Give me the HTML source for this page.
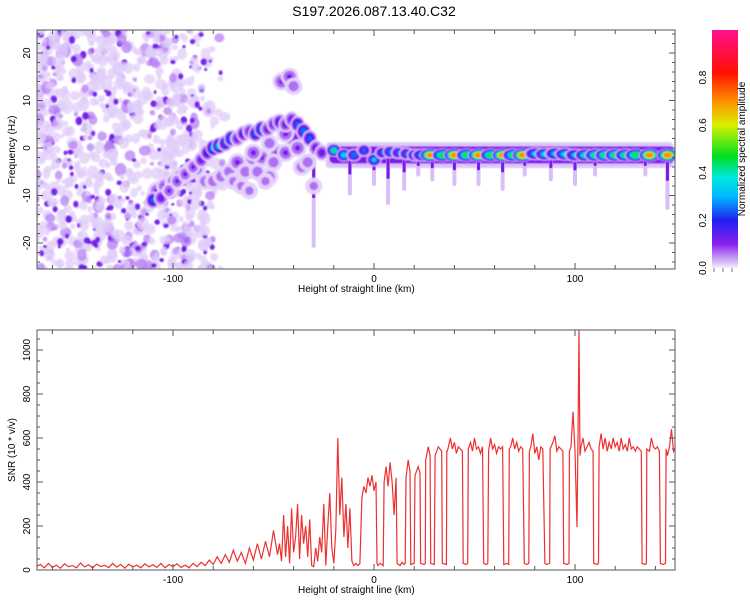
<!DOCTYPE html>
<html><head><meta charset="utf-8"><style>
html,body{margin:0;padding:0;background:#fff;}
svg{display:block;font-family:"Liberation Sans",sans-serif;}
</style></head><body>
<svg id="fig" width="750" height="600" viewBox="0 0 750 600">
<defs>
<clipPath id="clipTop"><rect x="37" y="30" width="638" height="239"/></clipPath>
<clipPath id="clipBot"><rect x="37" y="330" width="638" height="240"/></clipPath>
<linearGradient id="cbar" x1="0" y1="1" x2="0" y2="0">
<stop offset="0" stop-color="#f4ecfc"/><stop offset="0.04" stop-color="#c9a0f5"/>
<stop offset="0.1" stop-color="#8a20f0"/><stop offset="0.2" stop-color="#2020f0"/>
<stop offset="0.3" stop-color="#00b8ff"/><stop offset="0.38" stop-color="#00e8e0"/>
<stop offset="0.47" stop-color="#00e020"/><stop offset="0.6" stop-color="#d8f000"/>
<stop offset="0.7" stop-color="#ff9000"/><stop offset="0.82" stop-color="#ff1000"/>
<stop offset="1" stop-color="#ff1090"/>
</linearGradient>
<filter id="soft"><feGaussianBlur stdDeviation="0.8"/></filter>
</defs>
<text x="374" y="16" font-size="14" text-anchor="middle">S197.2026.087.13.40.C32</text>
<g id="topPlot">
<g id="heat" clip-path="url(#clipTop)"></g>
<rect x="37" y="30" width="638" height="239" fill="none" stroke="#555" stroke-width="1"/>
<g id="topTicks"></g>
<text x="298" y="292" font-size="10">Height of straight line (km)</text>
<text transform="translate(15,150) rotate(-90)" font-size="10" text-anchor="middle">Frequency (Hz)</text>
</g>
<g id="cb">
<rect x="712" y="30" width="26" height="238" fill="url(#cbar)"/>
<text transform="translate(745,149) rotate(-90)" font-size="10" text-anchor="middle">Normalized spectral amplitude</text>
</g>
<g id="botPlot">
<g id="snrG" clip-path="url(#clipBot)"></g>
<rect x="37" y="330" width="638" height="240" fill="none" stroke="#555" stroke-width="1"/>
<g id="botTicks"></g>
<text x="298" y="593" font-size="10">Height of straight line (km)</text>
<text transform="translate(15,450) rotate(-90)" font-size="10" text-anchor="middle">SNR (10 * v/v)</text>
</g>
</svg>
<script>
// ---- data ----
const xTicks=[-100,0,100];
const topYTicks=[-20,-10,0,10,20];
const botYTicks=[0,200,400,600,800,1000];
const cbTicks=[0.0,0.2,0.4,0.6,0.8];
// ridge blobs: km, Hz, amplitude
const ridgeKm=[-110,-106,-102,-98,-94,-90,-86,-83,-80,-77,-74,-71,-68,-65,-62,-59,-56,-53,-50,-47,-44,-41,-38,-35,-32,-29,-26,-20,-15,-10,-5,0,4,8,12,16,20,24,28,34,40,46,52,58,64,69,74,80,85,90,95,100,105,110,115,120,125,130,137,146];
const ridgeHz=[-11,-10.5,-9,-7,-5.5,-4,-2.5,-1,0,0.5,1,2,2,3,3.5,3,4,4,5,5.5,5,6,5,3.5,2,0,-1,-0.5,-1.5,-1.5,-0.5,-2.5,-1,-0.8,-1,-1.2,-1.5,-1.5,-1.5,-1.5,-1.5,-1.5,-1.5,-1.5,-1.5,-1.5,-1.5,-1.2,-1.3,-1.2,-1.3,-1.5,-1.5,-1.5,-1.5,-1.5,-1.5,-1.5,-1.5,-1.5];
const ridgeAmp=[0.3,0.2,0.15,0.15,0.15,0.15,0.2,0.25,0.4,0.45,0.3,0.35,0.2,0.25,0.2,0.3,0.35,0.2,0.2,0.25,0.2,0.2,0.3,0.35,0.3,0.2,0.2,0.5,0.45,0.35,0.3,0.4,0.3,0.35,0.3,0.3,0.35,0.4,0.8,0.6,0.85,0.6,0.85,0.6,0.85,0.55,0.85,0.4,0.45,0.4,0.45,0.4,0.5,0.55,0.6,0.6,0.55,0.6,0.85,0.85];
// secondary (lower branch / scattered) blobs
const sideKm=[-108,-104,-100,-96,-92,-88,-84,-80,-76,-72,-68,-64,-60,-56,-52,-48,-44,-40,-36,-46,-42,-40,-70,-60,-52,-66,-58,-50,-44,-38,-33,-30,-62,-54];
const sideHz=[-9,-8,-7,-6,-5,-4.5,-7,-7,-6,-5,-3,-5,-2,-2,-6,-1,-1,2,-4,14,15,13,-7,-1,1,-8,-5,-3,3,0,-3,-8,-9,-7];
const sideAmp=[0.15,0.15,0.12,0.15,0.12,0.12,0.12,0.12,0.12,0.12,0.15,0.12,0.2,0.15,0.12,0.15,0.15,0.2,0.12,0.15,0.15,0.12,0.1,0.15,0.12,0.1,0.12,0.12,0.15,0.15,0.12,0.1,0.1,0.1];
// vertical streaks under the ridge: km, lowest Hz reached
const streakKm=[-30,-12,0,7,15,22,29,40,52,64,75,88,100,110,135,146];
const streakLow=[-21,-10,-8,-12,-9,-6,-7,-8,-8,-9,-6,-7,-8,-6,-6,-13];
// SNR series
const snrKm=[-168,-166,-164,-162,-160,-158,-156,-154,-152,-150,-148,-146,-144,-142,-140,-138,-136,-134,-132,-130,-128,-126,-124,-122,-120,-118,-116,-114,-112,-110,-108,-106,-104,-102,-100,-98,-96,-94,-92,-90,-88,-86,-84,-82,-80,-78,-76,-74,-72,-70,-68,-66,-64,-62,-60,-58,-56,-54,-52,-50,-48,-47,-46,-45,-44,-43,-42,-41,-40,-39,-38,-37,-36,-35,-34,-33,-32,-31,-30,-29,-28,-27,-26,-25,-24,-23,-22,-21,-20,-19,-18,-17,-16,-15,-14,-13,-12,-11,-10,-9,-8,-7,-6,-5,-4,-3,-2,-1,0,1,1.5,2,3,4,4.6,5,6,7,8,9,10,11,11.5,13,14,15,15.5,15.9,17,17.9,18.3,20,20.4,22,22.9,23.2,25,25.5,25.7,27,27.9,28.2,30,30.4,32,33.7,34,36,36.2,36.5,38,39,40,41,42,43,44,44.4,46,46.6,46.9,48,49,50,51,52,53,54,54.6,56,56.6,57,58,59,60,61,62,63,64,64.6,66,67,67.3,68,69,70,71,72,73,74,74.8,76,77,77.3,78,79,80,81,82,83,84,85,86,87.4,87.6,89,90,91,92,93,94,94.4,96,97,97.2,98,99,100,101,101.5,102,102.5,103,104,105,106,107,108,109,109.3,111,111.7,112,113,114,115,116,117,118,119,120,121,122,123,124,125,126,127,128,129,130,131,132,133,133.4,135,135.5,135.7,137,138,139,140,141,142,142.5,144,145,145.3,146,147,148,149,150];
const snrVal=[15,25,10,30,12,22,8,28,15,20,10,32,14,24,9,27,16,21,11,30,13,25,8,26,15,22,10,28,14,24,12,30,10,25,15,28,12,22,10,30,15,35,20,45,25,60,30,70,35,90,40,80,30,100,45,120,50,130,60,180,70,120,40,250,60,200,30,280,80,150,300,50,250,120,200,60,230,20,15,100,40,150,80,300,20,200,350,100,30,180,600,250,420,150,300,100,280,40,20,30,20,30,330,380,350,420,380,430,360,400,30,20,30,25,20,400,470,380,490,400,250,420,30,20,35,25,30,420,500,450,25,30,430,470,440,30,25,30,500,560,520,30,25,520,560,540,30,25,540,540,600,550,580,530,560,550,540,30,25,30,550,580,540,600,550,560,530,560,30,25,30,540,600,550,570,530,560,550,560,25,30,25,550,560,600,550,580,540,560,550,30,25,30,540,560,620,530,560,500,560,550,30,25,30,550,580,610,540,560,550,540,30,25,30,540,560,720,540,195,600,1090,520,560,600,540,560,580,550,540,30,25,30,560,620,550,600,540,580,550,600,560,580,540,600,550,570,540,600,550,560,540,560,550,540,30,25,30,550,540,600,560,550,560,540,30,25,30,550,520,560,640,540,560];

// ---- scales ----
const X=km=>374+2.01*km;
const YT=hz=>148-4.75*hz;
const YB=v=>570-0.22*v;
const NS='http://www.w3.org/2000/svg';
function mk(tag,attrs,parent){const e=document.createElementNS(NS,tag);for(const k in attrs)e.setAttribute(k,attrs[k]);parent.appendChild(e);return e;}

const levels=[0.02,0.08,0.15,0.22,0.3,0.4,0.5,0.62,0.75,0.88];
const lcol=['#e4d2fa','#b070f4','#7a18ee','#3018f0','#0070ff','#00d8f0','#10e050','#c8f000','#ff8a00','#ff1020'];
const heat=document.getElementById('heat');

// background noise texture (decorative, deterministic)
let seed=12345;
function rnd(){seed=(seed*1103515245+12345)%2147483648;return seed/2147483648;}
const noiseG=mk('g',{filter:'url(#soft)'},heat);


for(let i=0;i<1100;i++){
  const km=-170+rnd()*100, hz=-26+rnd()*52;
  const keep=km<-90?1:Math.max(0,(-72-km)/18);
  if(rnd()>keep)continue;
  const dark=rnd();
  const r=dark<0.2?1.5+rnd()*2:2+rnd()*4;
  mk('ellipse',{cx:X(km),cy:YT(hz),rx:r,ry:r*(0.8+rnd()*0.5),fill:dark<0.2?'#7418ec':(dark<0.35?'#b580f4':'#e0ccfa'),opacity:dark<0.2?0.95:0.75},noiseG);
}
// faint band under ridge
const band=mk('rect',{x:X(-24),y:YT(1.2),width:X(149)-X(-24),height:YT(-4.2)-YT(1.2),rx:4,fill:'#dcc6f8',filter:'url(#soft)'},heat);


const band2=mk('rect',{x:X(-22),y:YT(0.3),width:X(149)-X(-22),height:YT(-3.2)-YT(0.3),rx:4,fill:'#7a18ee',filter:'url(#soft)'},heat);



// streaks
streakKm.forEach((km,i)=>{
  const r=mk('rect',{x:X(km)-2,y:YT(-2),width:4,height:YT(streakLow[i])-YT(-2),rx:2,fill:'#d2b4f6',opacity:0.85},heat);
  
  
  const r2=mk('rect',{x:X(km)-1.5,y:YT(-2),width:3,height:(YT(streakLow[i])-YT(-2))*0.45,rx:1.5,fill:'#7a18ee'},heat);
  
  
});

function blob(km,hz,amp,rx,ry,name){
  const g=mk('g',{filter:'url(#soft)'},heat);
  
  
  levels.forEach((lv,j)=>{
    if(lv>amp)return;
    const s=1-0.72*(lv/amp);
    mk('ellipse',{cx:X(km),cy:YT(hz),rx:rx*s,ry:ry*s,fill:lcol[j]},g);
  });
}
sideKm.forEach((km,i)=>blob(km,sideHz[i],sideAmp[i],10,10,'side-blob'));
ridgeKm.forEach((km,i)=>blob(km,ridgeHz[i],ridgeAmp[i],km>20?11:8,km>-22?7:9,'ridge-blob'));

// ---- ticks ----
function ticks(gid,yTop,yBot,yvals,yscale){
  const g=document.getElementById(gid);
  for(let km=-160;km<=140;km+=20){
    const big=xTicks.includes(km);const l=big?6:4;
    mk('line',{x1:X(km),x2:X(km),y1:yBot,y2:yBot-l,stroke:'#555'},g);
    mk('line',{x1:X(km),x2:X(km),y1:yTop,y2:yTop+l,stroke:'#555'},g);
  }
  xTicks.forEach(v=>{const t=mk('text',{x:X(v),y:yBot+13,'font-size':10,'text-anchor':'middle'},g);t.textContent=v;
    });
  yvals.forEach(v=>{const t=mk('text',{transform:`translate(30,${yscale(v)}) rotate(-90)`,'font-size':10,'text-anchor':'middle'},g);t.textContent=v;
    });
}
ticks('topTicks',30,269,topYTicks,YT);
const tt=document.getElementById('topTicks');
for(let hz=-24;hz<=24;hz+=2){const big=hz%10===0;const l=big?6:3;
  mk('line',{x1:37,x2:37+l,y1:YT(hz),y2:YT(hz),stroke:'#555'},tt);
  mk('line',{x1:675,x2:675-l,y1:YT(hz),y2:YT(hz),stroke:'#555'},tt);}
ticks('botTicks',330,570,botYTicks,YB);
const bt=document.getElementById('botTicks');
for(let v=0;v<=1080;v+=50){const big=v%200===0;const l=big?6:3;
  mk('line',{x1:37,x2:37+l,y1:YB(v),y2:YB(v),stroke:'#555'},bt);
  mk('line',{x1:675,x2:675-l,y1:YB(v),y2:YB(v),stroke:'#555'},bt);}

// colorbar labels
const cb=document.getElementById('cb');
cbTicks.forEach(v=>{const y=268-238*v;
  const t=mk('text',{transform:`translate(706,${y}) rotate(-90)`,'font-size':10,'text-anchor':'middle'},cb);t.textContent=v.toFixed(1);
  });
for(let i=0;i<3;i++) mk('line',{x1:714+i*9,x2:714+i*9,y1:268,y2:272,stroke:'#777'},cb);

// SNR line
const pts=snrKm.map((k,i)=>X(k).toFixed(1)+','+YB(snrVal[i]).toFixed(1)).join(' ');
const pl=mk('polyline',{points:pts,fill:'none',stroke:'#ee3030','stroke-width':1.2},document.getElementById('snrG'));


</script>
</body></html>
